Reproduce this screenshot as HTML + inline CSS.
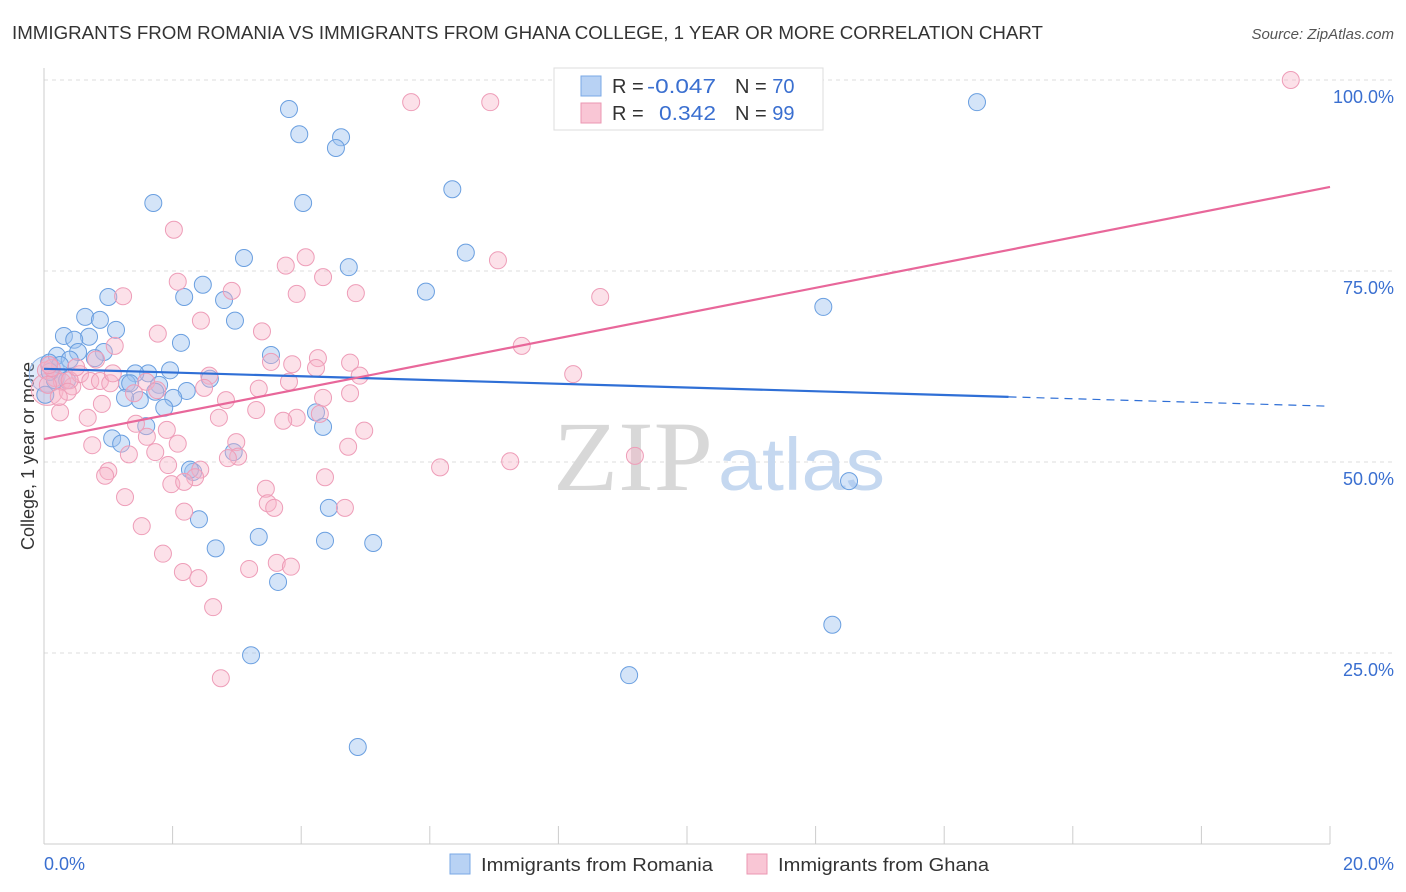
<!DOCTYPE html>
<html><head><meta charset="utf-8"><style>
body{margin:0;background:#fff;font-family:"Liberation Sans",sans-serif;}
#wrap{position:relative;width:1406px;height:892px;overflow:hidden;}
</style></head><body>
<div id="wrap">
<svg id="chart" width="1406" height="892" xmlns="http://www.w3.org/2000/svg">
<text x="12" y="39" font-size="18" fill="#333" textLength="1031" lengthAdjust="spacingAndGlyphs">IMMIGRANTS FROM ROMANIA VS IMMIGRANTS FROM GHANA COLLEGE, 1 YEAR OR MORE CORRELATION CHART</text>
<text x="1394" y="39" font-size="15" fill="#555" font-style="italic" text-anchor="end">Source: ZipAtlas.com</text>
<g id="grid"></g>
<text x="553" y="490" font-size="100" fill="#d8d8d8" font-family="Liberation Serif,serif" textLength="160" lengthAdjust="spacingAndGlyphs">ZIP</text>
<text x="718" y="490" font-size="74" fill="#c5d8f0" textLength="167" lengthAdjust="spacingAndGlyphs">atlas</text>
<line x1="44" y1="68" x2="44" y2="844" stroke="#ccc"/>
<line x1="44" y1="844" x2="1330" y2="844" stroke="#ccc"/>
<g id="xticks"></g>
<g id="ylabels"></g>
<text x="44" y="870" font-size="18" fill="#3a6fd0">0.0%</text>
<text x="1394" y="870" font-size="18" fill="#3a6fd0" text-anchor="end">20.0%</text>
<text transform="translate(34,456) rotate(-90)" font-size="18" fill="#333" text-anchor="middle">College, 1 year or more</text>
<g id="pts"></g>
<g id="trends"></g>
<g>
<rect x="554" y="68" width="269" height="62" fill="#fff" stroke="#ddd"/>
<rect x="581" y="76" width="20" height="20" fill="#b8d2f4" stroke="#7aa8e6"/>
<rect x="581" y="103" width="20" height="20" fill="#f9c6d5" stroke="#eb97b2"/>
<text x="612" y="93" font-size="20" fill="#333">R = </text>
<text x="647" y="93" font-size="20" fill="#3a6fd0" textLength="69" lengthAdjust="spacingAndGlyphs">-0.047</text>
<text x="735" y="93" font-size="20" fill="#333">N = <tspan fill="#3a6fd0">70</tspan></text>
<text x="612" y="120" font-size="20" fill="#333">R = </text>
<text x="659" y="120" font-size="20" fill="#3a6fd0" textLength="57" lengthAdjust="spacingAndGlyphs">0.342</text>
<text x="735" y="120" font-size="20" fill="#333">N = <tspan fill="#3a6fd0">99</tspan></text>
</g>
<g>
<rect x="450" y="854" width="20" height="20" fill="#b8d2f4" stroke="#7aa8e6"/>
<text x="481" y="871" font-size="18" fill="#333" textLength="232" lengthAdjust="spacingAndGlyphs">Immigrants from Romania</text>
<rect x="747" y="854" width="20" height="20" fill="#f9c6d5" stroke="#eb97b2"/>
<text x="778" y="871" font-size="18" fill="#333" textLength="211" lengthAdjust="spacingAndGlyphs">Immigrants from Ghana</text>
</g>
</svg>
</div>
<script>
const yTicks=[25,50,75,100];
const yTickLabels=["25.0%","50.0%","75.0%","100.0%"];
const xTicks=[0,2,4,6,8,10,12,14,16,18,20];
const blueX=[3.81,3.97,4.62,4.54,6.35,1.70,4.03,6.56,3.11,4.74,2.47,5.94,1.00,2.18,2.80,2.97,12.12,0.64,0.87,0.31,1.12,0.70,0.47,2.13,0.53,0.93,0.20,3.53,0.79,0.08,0.40,1.96,1.62,1.42,1.29,1.79,2.58,1.73,1.49,2.22,1.26,2.01,1.87,1.06,1.20,1.59,4.23,4.34,2.95,2.32,12.52,4.43,2.41,3.34,4.37,5.12,2.67,3.64,12.26,3.22,9.10,4.88,14.51,0.17,0.02,0.25,0.09,0.36,1.34,2.27];
const blueY=[96.2,92.9,92.5,91.1,85.7,83.9,83.9,77.4,76.7,75.5,73.2,72.3,71.6,71.6,71.2,68.5,70.3,69.0,68.6,66.5,67.3,66.4,66.0,65.6,64.4,64.4,63.9,64.0,63.6,63.0,63.4,62.0,61.6,61.6,60.3,60.1,60.9,59.2,58.1,59.3,58.4,58.4,57.1,53.1,52.4,54.7,56.5,54.6,51.3,48.7,47.5,44.0,42.5,40.2,39.7,39.4,38.7,34.3,28.7,24.7,22.1,12.7,97.1,60.7,58.8,62.7,61.8,60.7,60.3,49.0];
const pinkX=[19.39,5.71,6.94,2.02,4.07,3.76,7.06,4.34,2.08,2.92,4.85,3.93,1.23,8.65,2.44,1.77,3.39,1.10,7.43,4.26,4.76,3.53,3.86,4.23,4.91,8.23,2.57,0.03,0.17,0.28,0.44,0.56,0.72,0.87,1.03,1.59,0.40,0.12,0.06,2.49,3.34,3.81,4.76,1.40,1.76,0.37,0.25,0.68,0.90,2.83,3.30,4.34,4.29,3.93,3.72,1.43,2.72,1.91,1.60,2.08,0.75,2.99,4.98,1.32,1.73,3.02,2.86,4.73,7.25,6.16,9.19,1.93,1.00,0.95,4.37,2.43,2.35,1.98,2.18,1.26,3.45,3.48,3.58,4.68,2.18,1.52,1.85,2.16,3.19,3.62,3.84,2.40,2.63,2.75,0.08,0.23,0.50,0.81,1.07];
const pinkY=[100,97.1,97.1,80.4,76.8,75.7,76.4,74.2,73.6,72.4,72.1,72.0,71.7,71.6,68.5,66.8,67.1,65.2,65.2,63.6,63.0,63.1,62.8,62.3,61.3,61.5,61.3,62.0,61.0,60.5,59.9,61.5,60.6,60.6,60.3,60.5,60.7,62.3,60.1,59.7,59.6,60.5,59.0,59.0,59.4,59.2,56.5,55.8,57.6,58.1,56.8,58.4,56.3,55.8,55.4,55.0,55.8,54.2,53.3,52.4,52.2,52.6,54.1,51.0,51.3,50.7,50.5,52.0,50.1,49.3,50.8,49.6,48.8,48.2,48.0,49.0,48.0,47.1,47.4,45.4,46.5,44.6,44.0,44.0,43.5,41.6,38.0,35.6,36.0,36.8,36.3,34.8,31.0,21.7,62.7,58.5,62.4,63.4,61.6];
const blueTrend=[62.2,57.3];
const blueSolidEnd=15.0;
const pinkTrend=[53.0,86.0];
const NS="http://www.w3.org/2000/svg";
function sx(v){return 44+v/20*1286;}
function sy(v){return 844-v/100*764;}
function mk(tag,attrs,parent){const e=document.createElementNS(NS,tag);for(const k in attrs)e.setAttribute(k,attrs[k]);parent.appendChild(e);return e;}
const grid=document.getElementById('grid'),yl=document.getElementById('ylabels'),xt=document.getElementById('xticks');
yTicks.forEach((t,i)=>{
 const l=mk('line',{x1:44,x2:1394,y1:sy(t),y2:sy(t),stroke:'#ddd','stroke-dasharray':'4,4'},grid);
 
 
 const tx=mk('text',{x:1394,y:sy(t)+23,'font-size':18,fill:'#3a6fd0','text-anchor':'end'},yl);
 tx.textContent=yTickLabels[i];
 
 
});
xTicks.forEach(t=>{
 const l=mk('line',{x1:sx(t),x2:sx(t),y1:826,y2:844,stroke:'#ccc'},xt);
 
 
});
const pts=document.getElementById('pts');
mk('circle',{cx:sx(0.05),cy:sy(61.5),r:18,fill:'rgba(160,196,240,0.35)',stroke:'#8db4e8'},pts);
mk('circle',{cx:sx(0.05),cy:sy(59.5),r:16,fill:'rgba(248,180,200,0.35)',stroke:'#eea0b8'},pts);
blueX.forEach((x,i)=>{
 const c=mk('circle',{cx:sx(x),cy:sy(blueY[i]),r:8.5,fill:'rgba(160,196,240,0.45)',stroke:'#6a9fe0','stroke-width':1},pts);
 
 
});
pinkX.forEach((x,i)=>{
 const c=mk('circle',{cx:sx(x),cy:sy(pinkY[i]),r:8.5,fill:'rgba(248,180,200,0.4)',stroke:'#ee9db8','stroke-width':1},pts);
 
 
});
const tr=document.getElementById('trends');
function by(x){return blueTrend[0]+(blueTrend[1]-blueTrend[0])*x/20;}
const b1=mk('line',{x1:sx(0),y1:sy(by(0)),x2:sx(blueSolidEnd),y2:sy(by(blueSolidEnd)),stroke:'#2f6fd6','stroke-width':2.2},tr);


const b2=mk('line',{x1:sx(blueSolidEnd),y1:sy(by(blueSolidEnd)),x2:sx(20),y2:sy(by(20)),stroke:'#2f6fd6','stroke-width':1.2,'stroke-dasharray':'8,6'},tr);


const p1=mk('line',{x1:sx(0),y1:sy(pinkTrend[0]),x2:sx(20),y2:sy(pinkTrend[1]),stroke:'#e8679a','stroke-width':2.2},tr);


</script>
</body></html>
